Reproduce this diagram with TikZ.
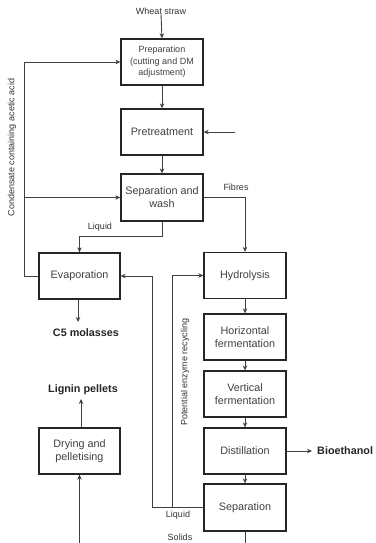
\documentclass[tikz,border=0pt]{standalone}
\usepackage{fontspec}
\setmainfont{Liberation Sans}
\usetikzlibrary{arrows.meta}
\begin{document}
\begin{tikzpicture}[x=1pt,y=-1pt,
  box/.style={draw=black!85,line width=1.3pt,minimum width=82pt,minimum height=46pt,align=center,inner sep=1pt,font=\fontsize{10.8}{13}\selectfont,text=black!75},
  smallbox/.style={box,font=\fontsize{9}{11.5}\selectfont},
  lbl/.style={font=\fontsize{9}{11}\selectfont,text=black!80,inner sep=0pt},
  product/.style={font=\bfseries\fontsize{10.8}{13}\selectfont,text=black!85,inner sep=0pt},
  ln/.style={draw=black!75,line width=0.9pt},
  arr/.style={ln,-{Stealth[length=5pt,width=4.5pt]}}]
\useasboundingbox[fill=white] (0,0) rectangle (375,543);

\node[lbl] (wheat) at (161,11) {Wheat straw};
\node[smallbox] (prep) at (162,62) {Preparation\\(cutting and DM\\adjustment)};
\node[box] (pre) at (162,132) {Pretreatment};
\node[box,minimum height=47pt] (sep) at (162,197.5) {Separation and\\wash};
\node[box,minimum width=81pt] (evap) at (79.5,276) {Evaporation};
\node[box] (hyd) at (245,275.5) {Hydrolysis};
\node[box] (hor) at (245,337) {Horizontal\\fermentation};
\node[box] (ver) at (245,394) {Vertical\\fermentation};
\node[box] (dist) at (245,451) {Distillation};
\node[box,minimum height=47pt] (sepn) at (245,507.5) {Separation};
\node[box,minimum width=81pt] (dry) at (79.5,451) {Drying and\\pelletising};

\node[product] (c5) at (86,333) {C5 molasses};
\node[product] (lig) at (83,389.5) {Lignin pellets};
\node[product,anchor=west] (bio) at (317,451) {Bioethanol};

\coordinate (pin) at (235,132);
\coordinate (cx) at (24,0);
\coordinate (rx) at (152,0);
\coordinate (ex) at (172,0);
\coordinate (c5end) at (78,322);
\coordinate (ligend) at (81,399);
\coordinate (bioend) at (312,451);
\coordinate (bot) at (0,543);

% main chain
\draw[arr] (wheat.south) -- (prep.north);
\draw[arr] (prep.south) -- (pre.north);
\draw[arr] (pre.south) -- (sep.north);
\draw[arr] (pin) -- (pre.east);
\draw[arr] (hyd.south) -- (hor.north);
\draw[arr] (hor.south) -- (ver.north);
\draw[arr] (ver.south) -- (dist.north);
\draw[arr] (dist.south) -- (sepn.north);
\draw[arr] (dist.east) -- (bioend);

% condensate loop
\draw[arr] (evap.west) -- (evap.west -| cx) |- (prep.west);
\draw[arr] (sep.west -| cx) -- (sep.west);
\node[lbl,rotate=90] (cond) at (12,147.5) {Condensate containing acetic acid};

% fibres and liquid
\draw[arr] (sep.east) -| (hyd.north);
\node[lbl] (fib) at (236,187) {Fibres};
\draw[arr] (sep.south) -- ++(0,15) -| (evap.north);
\node[lbl] (liq1) at (100,227) {Liquid};
\draw[arr] (evap.south -| c5end) -- (c5end);

% recycling
\draw[arr] (sepn.west) -- (sepn.west -| rx) |- (evap.east);
\draw[arr] (sepn.west -| ex) |- (hyd.west);
\node[lbl,rotate=90] (enz) at (185,372) {Potential enzyme recycling};
\node[lbl] (liq2) at (178,515) {Liquid};

% solids
\draw[ln] (sepn.south) -- (sepn.south |- bot);
\node[lbl] (sol) at (180,537) {Solids};
\draw[arr] (dry.south |- bot) -- (dry.south);
\draw[arr] (dry.north -| ligend) -- (ligend);
\end{tikzpicture}
\end{document}
